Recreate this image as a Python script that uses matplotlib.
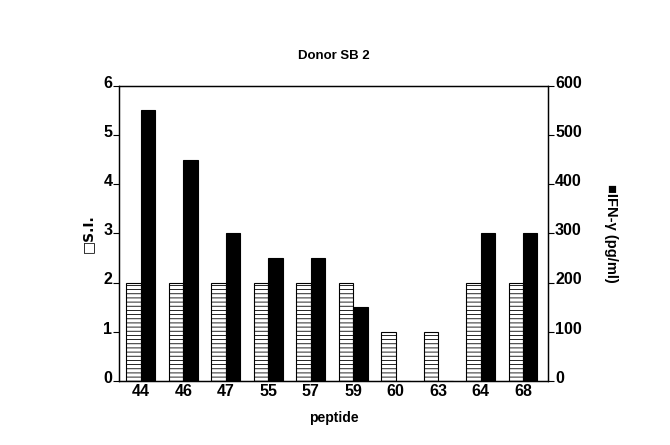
import matplotlib
matplotlib.use("Agg")
import matplotlib.pyplot as plt
import matplotlib.transforms as mtransforms
import numpy as np

peptides = ["44", "46", "47", "55", "57", "59", "60", "63", "64", "68"]
si_values = [2, 2, 2, 2, 2, 2, 1, 1, 2, 2]
ifn_values = [550, 450, 300, 250, 250, 150, 0, 0, 300, 300]

plt.rcParams['font.family'] = ['Liberation Sans', 'DejaVu Sans']
plt.rcParams['hatch.linewidth'] = 0.6

fig = plt.figure(figsize=(6.7, 4.45), dpi=100)
ax = fig.add_axes([0.178, 0.144, 0.64, 0.663])
ax2 = ax.twinx()

x = np.arange(len(peptides))
w = 0.34
ax.bar(x - w/2, si_values, width=w, facecolor='white', edgecolor='black',
       hatch='----', linewidth=0.8, zorder=2)
ax2.bar(x + w/2, ifn_values, width=w, facecolor='black', edgecolor='black',
        linewidth=0.8, zorder=2)

ax.set_xlim(-0.51, 9.59)
ax.set_ylim(0, 6)
ax2.set_ylim(0, 600)
ax.set_yticks(range(0, 7))
ax2.set_yticks(range(0, 601, 100))
ax.set_xticks(x)
ax.set_xticklabels(peptides)

for a in (ax, ax2):
    for s in a.spines.values():
        s.set_linewidth(0.9)

ax.tick_params(axis='x', length=0, pad=2, labelsize=11.5)
ax.tick_params(axis='y', direction='out', length=4, width=0.8, pad=1, labelsize=11.5)
ax2.tick_params(axis='y', direction='out', length=4, width=0.8, pad=1, labelsize=11.5)

for lab in ax.get_xticklabels() + ax.get_yticklabels() + ax2.get_yticklabels():
    lab.set_fontweight('bold')

offset = mtransforms.ScaledTranslation(0, 3/72, fig.dpi_scale_trans)
for lab in ax.get_yticklabels() + ax2.get_yticklabels():
    lab.set_transform(lab.get_transform() + offset)

ax.set_title("Donor SB 2", fontsize=9.5, fontweight='bold', pad=19)
ax.set_xlabel("peptide", fontsize=10, fontweight='bold', labelpad=9)
ax.set_ylabel("□S.I.", fontsize=10, fontweight='bold', labelpad=6,
              family=['DejaVu Sans'])
ax2.set_ylabel("■IFN-γ (pg/ml)", fontsize=10.5, fontweight='bold', rotation=-90,
               labelpad=16, va='bottom', family=['Liberation Sans', 'DejaVu Sans'])

fig.savefig("out.png", dpi=100, facecolor='white')
